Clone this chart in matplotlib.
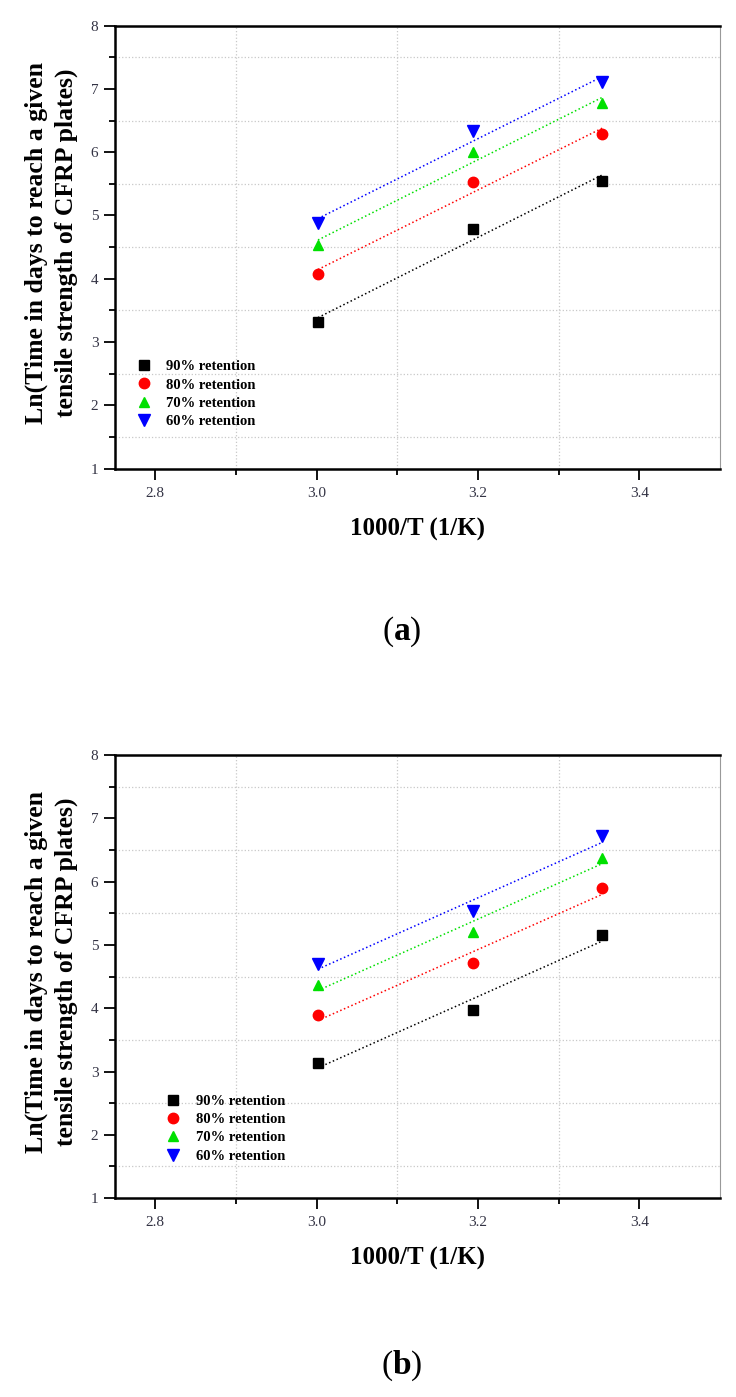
import numpy as np
import matplotlib
matplotlib.use("Agg")
import matplotlib.pyplot as plt

plt.rcParams['font.family'] = ['Liberation Serif', 'DejaVu Serif']
plt.rcParams['mathtext.fontset'] = 'custom'
plt.rcParams['mathtext.rm'] = 'Liberation Serif'
plt.rcParams['mathtext.bf'] = 'Liberation Serif:bold'

# 1000/T for 60, 40 and 25 degC
inv_temp = [3.0016, 3.1934, 3.3540]
labels = ["90% retention", "80% retention", "70% retention", "60% retention"]

# panel (a)
ln_time_a_90 = [3.31, 4.78, 5.55]
ln_time_a_80 = [4.07, 5.53, 6.29]
ln_time_a_70 = [4.54, 6.00, 6.78]
ln_time_a_60 = [4.88, 6.33, 7.11]

# panel (b)
ln_time_b_90 = [3.14, 3.97, 5.16]
ln_time_b_80 = [3.89, 4.71, 5.90]
ln_time_b_70 = [4.36, 5.20, 6.38]
ln_time_b_60 = [4.70, 5.53, 6.72]

colors = ['black', 'red', '#00e000', 'blue']
markers = ['s', 'o', '^', 'v']
msizes = [6.5, 7.5, 7.5, 8]

fig = plt.figure(figsize=(7.36, 13.97), dpi=100)


def draw_panel(rect, series, leg_anchor, tag, tag_y):
    ax = fig.add_axes(rect)
    x = np.array(inv_temp)
    for y, c, m, ms, lab in zip(series, colors, markers, msizes, labels):
        # linear (Arrhenius) fit through the three points
        k, b = np.polyfit(x, y, 1)
        ax.plot(x, k * x + b, ls=':', color=c, lw=1.1)
        ax.plot(x, y, ls='none', marker=m, color=c, ms=ms, label=lab)
    ax.set_xlim(2.75, 3.5)
    ax.set_ylim(1, 8)
    ax.set_xticks([2.8, 3.0, 3.2, 3.4])
    ax.set_xticks([2.9, 3.1, 3.3], minor=True)
    ax.set_yticks(range(1, 9))
    ax.set_yticks(np.arange(1.5, 8, 1.0), minor=True)
    ax.set_xticklabels(["2.8", "3.0", "3.2", "3.4"])
    ax.grid(which='minor', ls=':', color='#c8c8c8', lw=0.9)
    ax.tick_params(which='both', direction='out', top=False, right=False,
                   labelsize=11, labelcolor='#333344', width=1.3)
    ax.tick_params(which='major', length=8)
    ax.tick_params(which='minor', length=4)
    ax.tick_params(axis='x', pad=5)
    ax.tick_params(axis='y', pad=4)
    for s in ['left', 'bottom', 'top']:
        ax.spines[s].set_linewidth(1.8)
    ax.spines['right'].set_color('#999999')
    ax.spines['right'].set_linewidth(0.8)
    ax.set_ylabel("Ln(Time in days to reach a given\ntensile strength of CFRP plates)",
                  fontsize=18.5, fontweight='bold', linespacing=1.35)
    ax.yaxis.set_label_coords(-0.062, 0.51)
    ax.set_xlabel("1000/T (1/K)", fontsize=18, fontweight='bold', labelpad=13)
    ax.legend(loc='center left', bbox_to_anchor=leg_anchor, frameon=False,
              numpoints=1, handlelength=1.0, handletextpad=1.05, labelspacing=0.35,
              prop={'size': 10.5, 'weight': 'bold'}, borderaxespad=0)
    fig.text(0.546, tag_y, r"($\mathbf{" + tag + "}$)", ha='center', va='center',
             fontsize=24)
    return ax


draw_panel([0.1563, 0.6646, 0.822, 0.317],
           [ln_time_a_90, ln_time_a_80, ln_time_a_70, ln_time_a_60],
           (0.026, 0.168), 'a', 1 - 632 / 1397)
draw_panel([0.1563, 0.1424, 0.822, 0.317],
           [ln_time_b_90, ln_time_b_80, ln_time_b_70, ln_time_b_60],
           (0.074, 0.157), 'b', 1 - 1366 / 1397)

fig.savefig("out.png", dpi=100)
